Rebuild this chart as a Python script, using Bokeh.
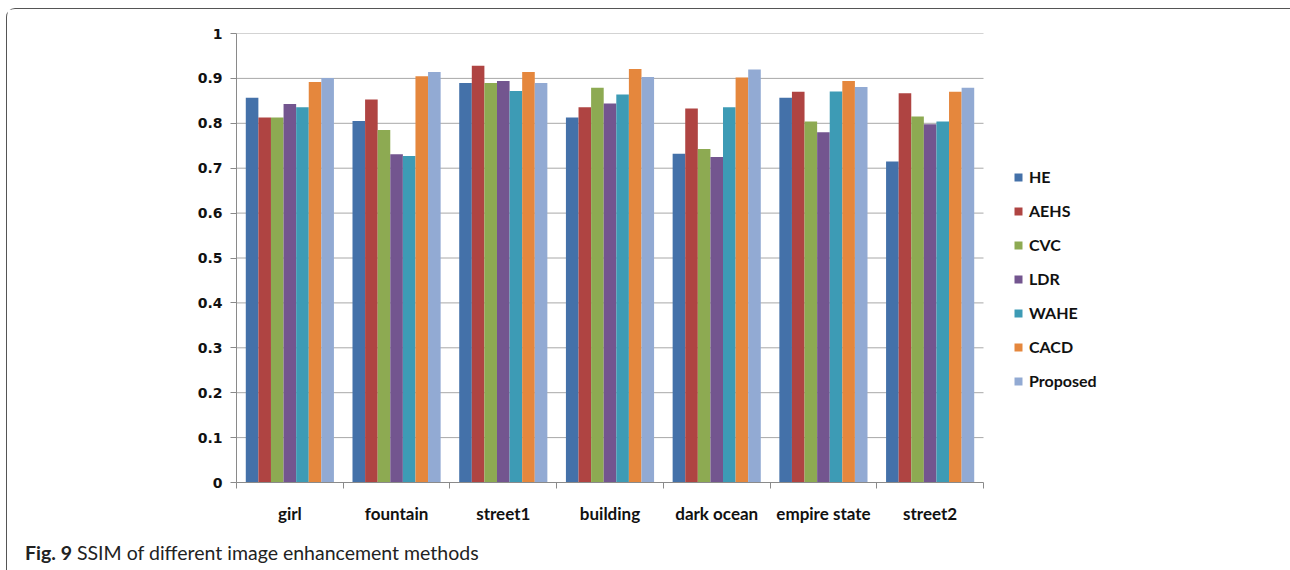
import numpy as np
from bokeh.plotting import figure
from bokeh.layouts import column
from bokeh.models import Range1d, FixedTicker, Legend, LegendItem, Div
from bokeh.embed import file_html
from bokeh.resources import INLINE

# Test images (x categories) and enhancement methods (series)
images = ["girl", "fountain", "street1", "building", "dark ocean", "empire state", "street2"]
methods = ["HE", "AEHS", "CVC", "LDR", "WAHE", "CACD", "Proposed"]

# SSIM per image for each method
ssim_he = [0.857, 0.805, 0.890, 0.813, 0.732, 0.857, 0.715]
ssim_aehs = [0.813, 0.853, 0.928, 0.836, 0.833, 0.870, 0.867]
ssim_cvc = [0.813, 0.785, 0.890, 0.879, 0.743, 0.804, 0.815]
ssim_ldr = [0.843, 0.731, 0.894, 0.844, 0.725, 0.780, 0.798]
ssim_wahe = [0.836, 0.727, 0.872, 0.864, 0.836, 0.871, 0.804]
ssim_cacd = [0.892, 0.905, 0.914, 0.921, 0.902, 0.894, 0.870]
ssim_proposed = [0.901, 0.914, 0.890, 0.903, 0.920, 0.881, 0.879]

y_ticks = [0, 0.1, 0.2, 0.3, 0.4, 0.5, 0.6, 0.7, 0.8, 0.9, 1]
y_tick_labels = ["0", "0.1", "0.2", "0.3", "0.4", "0.5", "0.6", "0.7", "0.8", "0.9", "1"]

series = [ssim_he, ssim_aehs, ssim_cvc, ssim_ldr, ssim_wahe, ssim_cacd, ssim_proposed]
colors = ["#4471A9", "#AF4442", "#8DAA52", "#73558F", "#3D9BB5", "#E5873D", "#92AAD3"]

n_cat = len(images)
n_ser = len(methods)
centers = np.arange(n_cat) + 0.5
bar_w = 0.118

# Canvas geometry: the bar area is plot_px wide; the frame continues to the
# right edge so the legend can sit inside it.
fig_w, fig_h = 1282, 521
left_px, top_px, bottom_px = 229, 24, 48
plot_px = 747
frame_px = fig_w - left_px
x_end = n_cat * frame_px / plot_px

p = figure(
    width=fig_w, height=fig_h,
    x_range=Range1d(0, x_end), y_range=Range1d(0, 1),
    output_backend="svg", toolbar_location=None,
    min_border_left=left_px, min_border_right=0,
    min_border_top=top_px, min_border_bottom=bottom_px,
    outline_line_color=None,
    background_fill_color="white", border_fill_color="white",
)

# horizontal gridlines over the bar area only
grid_y = y_ticks[1:]
p.segment(x0=[0] * len(grid_y), y0=grid_y, x1=[n_cat] * len(grid_y), y1=grid_y,
          line_color="#a8a8a8", line_width=1, level="underlay")

renderers = []
for j, (vals, col) in enumerate(zip(series, colors)):
    xs = centers + (j - (n_ser - 1) / 2) * bar_w
    r = p.vbar(x=xs, top=vals, bottom=0, width=bar_w, fill_color=col, line_color=None)
    renderers.append(r)

# x axis: labels at category centres, tick marks at category boundaries
xax = p.xaxis[0]
xax.bounds = (0, n_cat)
xax.ticker = FixedTicker(ticks=list(centers), minor_ticks=list(range(n_cat + 1)))
xax.major_label_overrides = {float(c): name for c, name in zip(centers, images)}
xax.major_tick_out = 0
xax.major_tick_in = 0
xax.minor_tick_out = 6
xax.minor_tick_in = 0
xax.minor_tick_line_color = "#8a8a8a"
xax.axis_line_color = "#8a8a8a"
xax.major_label_text_font = "Lato"
xax.major_label_text_font_style = "bold"
xax.major_label_text_font_size = "17px"
xax.major_label_text_color = "#111111"
xax.major_label_standoff = 14

yax = p.yaxis[0]
yax.ticker = FixedTicker(ticks=y_ticks)
yax.major_label_overrides = {float(t): s for t, s in zip(y_ticks, y_tick_labels)}
yax.major_tick_out = 6
yax.major_tick_in = 0
yax.minor_tick_line_color = None
yax.major_tick_line_color = "#8a8a8a"
yax.axis_line_color = "#8a8a8a"
yax.major_label_text_font = "DejaVu Sans"
yax.major_label_text_font_style = "bold"
yax.major_label_text_font_size = "14px"
yax.major_label_text_color = "#111111"
yax.major_label_standoff = 8

p.xgrid.visible = False
p.ygrid.visible = False

legend = Legend(
    items=[LegendItem(label=m, renderers=[r]) for m, r in zip(methods, renderers)],
    location=(777, 92),
    glyph_width=10, glyph_height=10,
    label_standoff=6, spacing=15, padding=0, margin=0,
    border_line_color=None, background_fill_alpha=0,
    label_text_font="Lato", label_text_font_style="bold",
    label_text_font_size="16px", label_text_color="#111111",
)
p.add_layout(legend)

caption = Div(
    text=('<div style="margin:4px 0 0 13px; font-family:Lato; font-size:19.5px; '
          'color:#222222; white-space:nowrap;"><b>Fig. 9</b> '
          'SSIM of different image enhancement methods</div>'),
    width=fig_w, height=40,
)

layout = column(
    p, caption, spacing=0,
    styles={
        "margin-left": "6px", "margin-top": "8px",
        "border": "1px solid #555555", "border-bottom": "none",
        "border-radius": "9px 9px 0 0", "background-color": "white",
    },
)

open("out.html", "w").write(file_html(layout, INLINE))
